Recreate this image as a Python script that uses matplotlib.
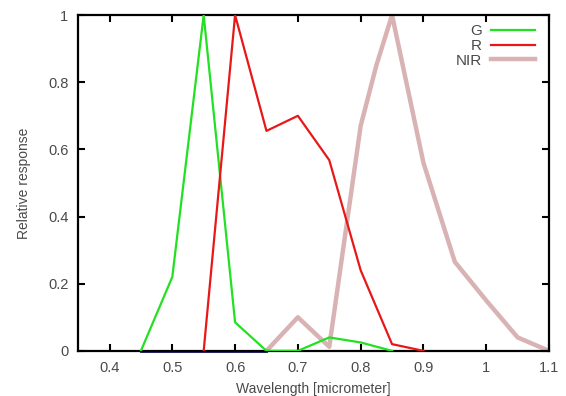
import numpy as np
import matplotlib.pyplot as plt

# spectral response curves
g_wl = [0.45, 0.5, 0.55, 0.6, 0.65, 0.7, 0.75, 0.8, 0.85]
g_val = [0.0, 0.22, 1.0, 0.085, 0.0, 0.0, 0.04, 0.025, 0.0]

r_wl = [0.55, 0.6, 0.65, 0.7, 0.75, 0.8, 0.85, 0.9]
r_val = [0.0, 1.0, 0.655, 0.70, 0.568, 0.24, 0.02, 0.0]

nir_wl = [0.65, 0.7, 0.75, 0.8, 0.825, 0.85, 0.9, 0.95, 1.0, 1.05, 1.1]
nir_val = [0.0, 0.10, 0.012, 0.67, 0.85, 1.0, 0.56, 0.265, 0.15, 0.04, 0.0]

b_wl = [0.45, 0.5, 0.55, 0.6, 0.65]
b_val = [0.0, 0.0, 0.0, 0.0, 0.0]

xticks = [0.4, 0.5, 0.6, 0.7, 0.8, 0.9, 1.0, 1.1]
xticklabels = ['0.4', '0.5', '0.6', '0.7', '0.8', '0.9', '1', '1.1']
yticks = [0, 0.2, 0.4, 0.6, 0.8, 1.0]
yticklabels = ['0', '0.2', '0.4', '0.6', '0.8', '1']

plt.rcParams['font.family'] = ['Liberation Sans', 'DejaVu Sans']
txt = '#4a4a4a'

fig = plt.figure(figsize=(5.66, 3.96), dpi=100)
ax = fig.add_axes([0.138, 0.114, 0.832, 0.848])

ax.plot(b_wl, b_val, color='#101060', lw=2, clip_on=False, zorder=1)
ax.plot(g_wl, g_val, color='#22e022', lw=1.6, label='G', zorder=3)
ax.plot(r_wl, r_val, color='#e81818', lw=1.6, label='R', zorder=3)
ax.plot(nir_wl, nir_val, color='#d9b3b3', lw=3.2, label='NIR', zorder=2)

ax.set_xlim(0.35, 1.1)
ax.set_ylim(0, 1)
ax.set_xticks(xticks)
ax.set_xticklabels(xticklabels)
ax.set_yticks(yticks)
ax.set_yticklabels(yticklabels)
ax.tick_params(direction='in', top=True, right=True, length=5, width=1.5,
               labelsize=10.5, labelcolor=txt, pad=7)
for s in ax.spines.values():
    s.set_linewidth(1.6)

ax.set_xlabel('Wavelength [micrometer]', fontsize=10, color=txt, labelpad=5)
ax.set_ylabel('Relative response', fontsize=10, color=txt, labelpad=12)

ax.legend(loc='upper right', frameon=False, markerfirst=False, fontsize=11,
          handlelength=2.9, labelspacing=0.05, borderaxespad=0.2,
          handletextpad=0.6, labelcolor=txt, bbox_to_anchor=(0.99, 1.0))

fig.savefig('out.png', dpi=100)
